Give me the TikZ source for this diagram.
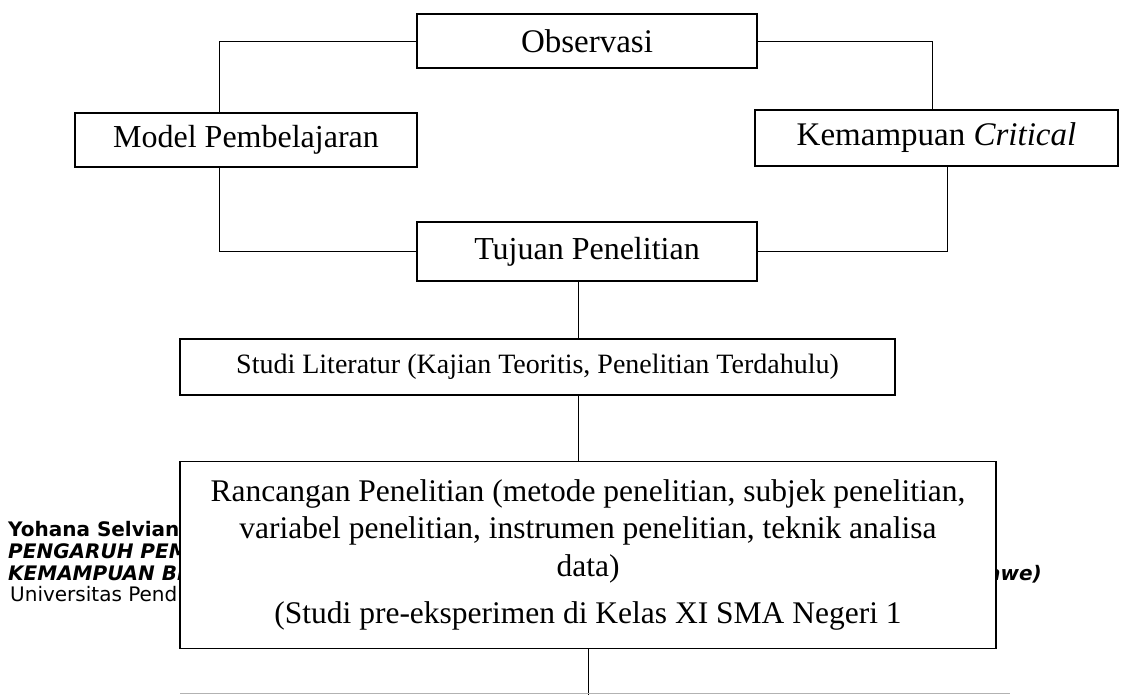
\documentclass[tikz,border=0pt]{standalone}
\usepackage{fontspec}
\setmainfont{Liberation Serif}
\newfontfamily\ftr{DejaVu Sans}
\begin{document}
\begin{tikzpicture}[x=1pt,y=-1pt,
  box/.style={draw=black, line width=1.8pt, fill=white, inner sep=0pt, rectangle,
    font=\fontsize{32}{38}\selectfont},
  conn/.style={draw=black, line width=0.9pt},
  foot/.style={anchor=base west, inner sep=0pt, font=\ftr\fontsize{20}{22}\selectfont}]
\useasboundingbox (0,0) rectangle (1128,695);
% footer text (behind the big box)
\node[foot] (f1) at (8,536) {\bfseries Yohana Selvian};
\node[foot] (f2) at (8,558) {\bfseries\itshape PENGARUH PEM};
\node[foot] (f3) at (8,580) {\bfseries\itshape KEMAMPUAN BE};
\node[foot] (f4) at (10,601) {Universitas Pend};
\node[foot, anchor=base east] (f5) at (1042,580) {\bfseries\itshape awe)};
% boxes
\node[box, minimum width=340, minimum height=54, font=\fontsize{33}{38}\selectfont] (obs) at (587,41) {Observasi};
\node[box, minimum width=342, minimum height=54] (model) at (246,140) {Model Pembelajaran};
\node[box, minimum width=363, minimum height=56, font=\fontsize{33}{38}\selectfont] (kem) at (936.5,138) {Kemampuan \textit{Critical}};
\node[box, minimum width=340, minimum height=59] (tuj) at (587,251.5) {Tujuan Penelitian};
\node[box, minimum width=715, minimum height=56, font=\fontsize{28}{34}\selectfont] (stud) at (537.5,367) {Studi Literatur (Kajian Teoritis, Penelitian Terdahulu)};
\node[box, minimum width=816, minimum height=187, align=center, font=\fontsize{31.5}{37.5}\selectfont] (ranc) at (588,555)
  {Rancangan Penelitian (metode penelitian, subjek penelitian,\\
   variabel penelitian, instrumen penelitian, teknik analisa\\
   data)\\[10pt]
   (Studi pre-eksperimen di Kelas XI SMA Negeri 1};
% connectors
\coordinate (bot) at (0,695);
\draw[conn] (obs.west) -| ([xshift=145]model.north west);
\draw[conn] (obs.east) -| ([xshift=178]kem.north west);
\draw[conn] ([xshift=145]model.south west) |- (tuj.west);
\draw[conn] ([xshift=193]kem.south west) |- (tuj.east);
\draw[conn] ([xshift=-9]tuj.south) -- ([xshift=-9]tuj.south |- stud.north);
\draw[conn] ([xshift=40.5]stud.south) -- ([xshift=40.5]stud.south |- ranc.north);
\draw[conn] (ranc.south) -- (ranc.south |- bot);
\draw[gray!60, line width=1pt] (180,693.5) -- (1010,693.5);
\end{tikzpicture}
\end{document}
